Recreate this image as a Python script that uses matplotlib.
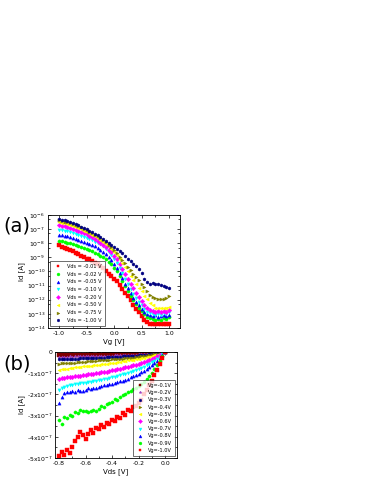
import numpy as np
import matplotlib.pyplot as plt
from matplotlib.ticker import LogLocator, NullFormatter, FixedLocator, FuncFormatter, AutoMinorLocator

# ---- panel (a): transfer curves, log10(Id) vs Vg ----
vg = [-1.00, -0.95, -0.90, -0.85, -0.80, -0.75, -0.70, -0.65, -0.60, -0.55,
      -0.50, -0.45, -0.40, -0.35, -0.30, -0.25, -0.20, -0.15, -0.10, -0.05,
      0.00, 0.05, 0.10, 0.15, 0.20, 0.25, 0.30, 0.35, 0.40, 0.45,
      0.50, 0.55, 0.60, 0.65, 0.70, 0.75, 0.80, 0.85, 0.90, 0.95, 1.00]

vds_labels = ["Vds = -0.01 V", "Vds = -0.02 V", "Vds = -0.05 V", "Vds = -0.10 V",
              "Vds = -0.20 V", "Vds = -0.50 V", "Vds = -0.75 V", "Vds = -1.00 V"]

logid_001 = [-8.15, -8.25, -8.35, -8.42, -8.50, -8.58, -8.68, -8.78, -8.88, -8.98,
             -9.08, -9.15, -9.25, -9.38, -9.50, -9.62, -9.78, -9.95, -10.15, -10.35,
             -10.55, -10.70, -10.95, -11.25, -11.50, -11.75, -12.05, -12.35, -12.65, -12.90,
             -13.15, -13.40, -13.60, -13.70, -13.75, -13.70, -13.75, -13.70, -13.75, -13.70, -13.75]
logid_002 = [-7.82, -7.86, -7.90, -7.95, -8.00, -8.06, -8.12, -8.19, -8.26, -8.34,
             -8.42, -8.50, -8.58, -8.67, -8.77, -8.88, -9.00, -9.15, -9.32, -9.50,
             -9.72, -10.00, -10.30, -10.65, -11.00, -11.35, -11.70, -12.00, -12.30, -12.55,
             -12.80, -13.00, -13.20, -13.30, -13.35, -13.40, -13.35, -13.40, -13.30, -13.35, -13.25]
logid_005 = [-7.40, -7.43, -7.47, -7.52, -7.57, -7.62, -7.68, -7.74, -7.81, -7.88,
             -7.95, -8.03, -8.12, -8.22, -8.33, -8.45, -8.60, -8.78, -8.98, -9.20,
             -9.45, -9.75, -10.10, -10.45, -10.85, -11.20, -11.55, -11.85, -12.15, -12.40,
             -12.65, -12.85, -13.00, -13.10, -13.15, -13.10, -13.20, -13.15, -13.10, -13.15, -13.05]
logid_010 = [-7.05, -7.08, -7.12, -7.16, -7.22, -7.27, -7.33, -7.40, -7.47, -7.54,
             -7.62, -7.70, -7.78, -7.88, -7.98, -8.05, -8.20, -8.40, -8.60, -8.85,
             -9.10, -9.40, -9.75, -10.10, -10.50, -10.90, -11.25, -11.60, -11.90, -12.15,
             -12.40, -12.65, -12.85, -12.95, -13.00, -13.05, -13.00, -13.05, -12.95, -13.00, -12.90]
logid_020 = [-6.72, -6.75, -6.80, -6.86, -6.92, -6.98, -7.05, -7.12, -7.20, -7.28,
             -7.38, -7.48, -7.58, -7.70, -7.82, -7.95, -8.10, -8.25, -8.45, -8.65,
             -8.88, -9.15, -9.45, -9.80, -10.15, -10.50, -10.85, -11.20, -11.50, -11.80,
             -12.10, -12.35, -12.55, -12.70, -12.80, -12.85, -12.80, -12.85, -12.80, -12.85, -12.75]
logid_050 = [-6.50, -6.55, -6.60, -6.66, -6.72, -6.78, -6.85, -6.92, -7.00, -7.10,
             -7.20, -7.30, -7.40, -7.50, -7.62, -7.75, -7.90, -8.05, -8.20, -8.40,
             -8.60, -8.85, -9.10, -9.40, -9.70, -10.00, -10.30, -10.60, -10.90, -11.15,
             -11.40, -11.70, -11.95, -12.20, -12.40, -12.55, -12.60, -12.55, -12.60, -12.55, -12.50]
logid_075 = [-6.38, -6.42, -6.47, -6.53, -6.60, -6.66, -6.73, -6.80, -6.88, -6.98,
             -7.08, -7.18, -7.28, -7.40, -7.52, -7.65, -7.80, -7.92, -8.10, -8.30,
             -8.50, -8.72, -8.95, -9.18, -9.42, -9.68, -9.92, -10.15, -10.40, -10.62,
             -10.85, -11.10, -11.40, -11.65, -11.80, -11.88, -11.92, -11.95, -11.98, -11.85, -11.70]
logid_100 = [-6.28, -6.33, -6.38, -6.44, -6.50, -6.57, -6.64, -6.72, -6.82, -6.92,
             -7.02, -7.12, -7.22, -7.33, -7.45, -7.57, -7.70, -7.82, -7.96, -8.10,
             -8.25, -8.40, -8.57, -8.72, -8.90, -9.08, -9.25, -9.45, -9.62, -9.85,
             -10.10, -10.50, -10.75, -10.85, -10.80, -10.90, -10.85, -10.95, -11.05, -11.10, -11.20]

# ---- panel (b): output curves, Id (x1e-7 A) vs Vds ----
vds = [-0.80, -0.78, -0.76, -0.74, -0.72, -0.70, -0.68, -0.66, -0.64, -0.62,
       -0.60, -0.58, -0.56, -0.54, -0.52, -0.50, -0.48, -0.46, -0.44, -0.42,
       -0.40, -0.38, -0.36, -0.34, -0.32, -0.30, -0.28, -0.26, -0.24, -0.22,
       -0.20, -0.18, -0.16, -0.14, -0.12, -0.10, -0.08, -0.06, -0.04, -0.02, 0.00]

vg_labels = ["Vg=-0.1V", "Vg=-0.2V", "Vg=-0.3V", "Vg=-0.4V", "Vg=-0.5V",
             "Vg=-0.6V", "Vg=-0.7V", "Vg=-0.8V", "Vg=-0.9V", "Vg=-1.0V"]

id_01 = [-0.14, -0.13, -0.15, -0.13, -0.14, -0.12, -0.13, -0.14, -0.12, -0.13,
         -0.12, -0.13, -0.11, -0.12, -0.12, -0.11, -0.12, -0.10, -0.11, -0.11,
         -0.10, -0.11, -0.10, -0.09, -0.10, -0.09, -0.09, -0.08, -0.09, -0.08,
         -0.07, -0.07, -0.06, -0.06, -0.05, -0.05, -0.04, -0.03, -0.02, -0.01, 0.00]
id_02 = [-0.24, -0.22, -0.23, -0.22, -0.21, -0.22, -0.21, -0.20, -0.21, -0.20,
         -0.20, -0.19, -0.20, -0.19, -0.18, -0.19, -0.18, -0.17, -0.18, -0.17,
         -0.17, -0.16, -0.16, -0.15, -0.15, -0.14, -0.14, -0.13, -0.13, -0.12,
         -0.11, -0.11, -0.10, -0.09, -0.08, -0.07, -0.06, -0.05, -0.03, -0.02, 0.00]
id_03 = [-0.35, -0.34, -0.33, -0.33, -0.32, -0.32, -0.31, -0.31, -0.30, -0.30,
         -0.29, -0.29, -0.28, -0.28, -0.27, -0.27, -0.26, -0.26, -0.25, -0.25,
         -0.24, -0.23, -0.23, -0.22, -0.21, -0.21, -0.20, -0.19, -0.18, -0.17,
         -0.16, -0.15, -0.14, -0.13, -0.11, -0.10, -0.08, -0.06, -0.05, -0.03, 0.00]
id_04 = [-0.55, -0.53, -0.54, -0.52, -0.51, -0.50, -0.50, -0.48, -0.47, -0.47,
         -0.45, -0.44, -0.44, -0.42, -0.41, -0.40, -0.40, -0.38, -0.37, -0.36,
         -0.35, -0.34, -0.33, -0.32, -0.31, -0.30, -0.29, -0.28, -0.26, -0.25,
         -0.23, -0.21, -0.19, -0.17, -0.15, -0.13, -0.11, -0.08, -0.05, -0.03, 0.00]
id_05 = [-0.85, -0.82, -0.80, -0.78, -0.76, -0.74, -0.72, -0.70, -0.69, -0.68,
         -0.67, -0.65, -0.64, -0.62, -0.61, -0.59, -0.58, -0.56, -0.55, -0.53,
         -0.51, -0.50, -0.48, -0.46, -0.44, -0.42, -0.40, -0.38, -0.36, -0.34,
         -0.32, -0.30, -0.27, -0.25, -0.22, -0.19, -0.16, -0.12, -0.08, -0.04, 0.00]
id_06 = [-1.25, -1.22, -1.21, -1.20, -1.18, -1.16, -1.15, -1.13, -1.12, -1.10,
         -1.08, -1.06, -1.04, -1.02, -1.00, -0.98, -0.96, -0.94, -0.92, -0.90,
         -0.87, -0.85, -0.82, -0.79, -0.76, -0.73, -0.70, -0.67, -0.63, -0.59,
         -0.55, -0.51, -0.47, -0.43, -0.38, -0.33, -0.27, -0.21, -0.14, -0.07, 0.00]
id_07 = [-1.80, -1.70, -1.65, -1.60, -1.58, -1.55, -1.52, -1.50, -1.48, -1.47,
         -1.45, -1.42, -1.40, -1.38, -1.36, -1.34, -1.31, -1.28, -1.25, -1.22,
         -1.19, -1.16, -1.12, -1.09, -1.05, -1.02, -0.98, -0.94, -0.90, -0.85,
         -0.80, -0.75, -0.69, -0.63, -0.56, -0.49, -0.41, -0.32, -0.22, -0.11, 0.00]
id_08 = [-2.40, -2.10, -1.95, -1.90, -1.88, -1.85, -1.90, -1.80, -1.85, -1.82,
         -1.78, -1.72, -1.75, -1.70, -1.68, -1.65, -1.62, -1.58, -1.55, -1.52,
         -1.50, -1.45, -1.42, -1.38, -1.35, -1.30, -1.25, -1.20, -1.15, -1.10,
         -1.03, -0.96, -0.88, -0.80, -0.72, -0.63, -0.53, -0.42, -0.29, -0.15, 0.00]
id_09 = [-3.20, -3.40, -3.05, -3.10, -2.95, -3.00, -2.85, -2.90, -2.75, -2.80,
         -2.78, -2.85, -2.80, -2.75, -2.78, -2.70, -2.55, -2.60, -2.45, -2.40,
         -2.35, -2.20, -2.25, -2.10, -2.05, -2.00, -1.90, -1.85, -1.75, -1.70,
         -1.60, -1.50, -1.40, -1.28, -1.12, -0.98, -0.82, -0.62, -0.42, -0.20, 0.00]
id_10 = [-4.90, -4.70, -4.85, -4.60, -4.75, -4.50, -4.20, -4.00, -3.75, -3.90,
         -4.10, -3.85, -3.70, -3.80, -3.60, -3.65, -3.45, -3.55, -3.35, -3.40,
         -3.20, -3.25, -3.05, -3.10, -2.90, -2.95, -2.75, -2.80, -2.60, -2.55,
         -2.40, -2.25, -2.00, -1.80, -1.55, -1.35, -1.10, -0.85, -0.58, -0.30, 0.00]

colors_a = ["#FF0000", "#00FF00", "#0000FF", "#00FFFF", "#FF00FF", "#FFFF00", "#808000", "#000080"]
markers_a = ["s", "o", "^", "v", "D", "<", ">", "h"]
colors_b = ["#800000", "#A040C0", "#000080", "#808000", "#FFFF00",
            "#FF00FF", "#00FFFF", "#0000FF", "#00FF00", "#FF0000"]
markers_b = ["s", "*", "h", ">", "<", "D", "v", "^", "o", "s"]

W, H = 374, 484
fig = plt.figure(figsize=(W / 100, H / 100), dpi=100)


def box(l, r, t, b):
    return [l / W, 1 - b / H, (r - l) / W, (b - t) / H]


def style(ax):
    ax.tick_params(which="both", direction="in", top=True, right=True,
                   labelsize=4.4, width=0.5, pad=2)
    ax.tick_params(which="major", length=2.5)
    ax.tick_params(which="minor", length=1.3)
    for s in ax.spines.values():
        s.set_linewidth(0.6)


# panel (a)
ax0 = fig.add_axes(box(48, 180, 215, 328))
series_a = [logid_001, logid_002, logid_005, logid_010,
            logid_020, logid_050, logid_075, logid_100]
for ys, c, m, lab in zip(series_a, colors_a, markers_a, vds_labels):
    ax0.plot(vg, 10.0 ** np.array(ys), ls="none", marker=m, ms=2.3,
             mfc=c, mec=c, mew=0.3, label=lab)
ax0.set_yscale("log")
ax0.set_ylim(1e-14, 1e-6)
ax0.set_xlim(-1.2, 1.2)
ax0.yaxis.set_major_locator(LogLocator(base=10, numticks=12))
ax0.yaxis.set_minor_locator(LogLocator(base=10, subs=[5], numticks=12))
ax0.yaxis.set_minor_formatter(NullFormatter())
ax0.xaxis.set_major_locator(FixedLocator([-1.0, -0.5, 0.0, 0.5, 1.0]))
ax0.xaxis.set_minor_locator(AutoMinorLocator(2))
ax0.set_xticklabels(["-1.0", "-0.5", "0.0", "0.5", "1.0"])
style(ax0)
ax0.set_xlabel("Vg [V]", fontsize=5, labelpad=2)
ax0.set_ylabel("Id [A]", fontsize=5, labelpad=1)
leg0 = ax0.legend(loc="lower left", fontsize=3.6, frameon=True, fancybox=False,
                  edgecolor="black", borderpad=0.6, handletextpad=0.8,
                  labelspacing=0.55, markerscale=0.9, borderaxespad=0.4)
leg0.get_frame().set_linewidth(0.5)
fig.text(3 / W, 1 - 226 / H, "(a)", fontsize=14, va="center", ha="left")

# panel (b)
ax1 = fig.add_axes(box(55, 177, 352, 458))
series_b = [id_01, id_02, id_03, id_04, id_05, id_06, id_07, id_08, id_09, id_10]
for ys, c, m, lab in zip(series_b, colors_b, markers_b, vg_labels):
    ax1.plot(vds, np.array(ys) * 1e-7, ls="none", marker=m, ms=2.3,
             mfc=c, mec=c, mew=0.3, label=lab)
ax1.set_xlim(-0.83, 0.09)
ax1.set_ylim(-5e-7, 0)
ax1.xaxis.set_major_locator(FixedLocator([-0.8, -0.6, -0.4, -0.2, 0.0]))
ax1.xaxis.set_minor_locator(AutoMinorLocator(2))
ax1.yaxis.set_major_locator(FixedLocator([-5e-7, -4e-7, -3e-7, -2e-7, -1e-7, 0]))
ax1.yaxis.set_minor_locator(AutoMinorLocator(2))


def fmt_b(v, pos):
    k = int(round(v / 1e-7))
    if k == 0:
        return "0"
    return r"%dx10$^{-7}$" % k


ax1.yaxis.set_major_formatter(FuncFormatter(fmt_b))
ax1.set_xticklabels(["-0.8", "-0.6", "-0.4", "-0.2", "0.0"])
style(ax1)
ax1.set_xlabel("Vds [V]", fontsize=5, labelpad=2)
ax1.set_ylabel("Id [A]", fontsize=5, labelpad=1)
leg1 = ax1.legend(loc="lower right", fontsize=3.6, frameon=True, fancybox=False,
                  edgecolor="black", borderpad=0.5, handletextpad=0.6,
                  labelspacing=0.45, markerscale=0.9, borderaxespad=0.5)
leg1.get_frame().set_linewidth(0.5)
fig.text(3 / W, 1 - 364 / H, "(b)", fontsize=14, va="center", ha="left")

fig.savefig("out.png", dpi=100)
